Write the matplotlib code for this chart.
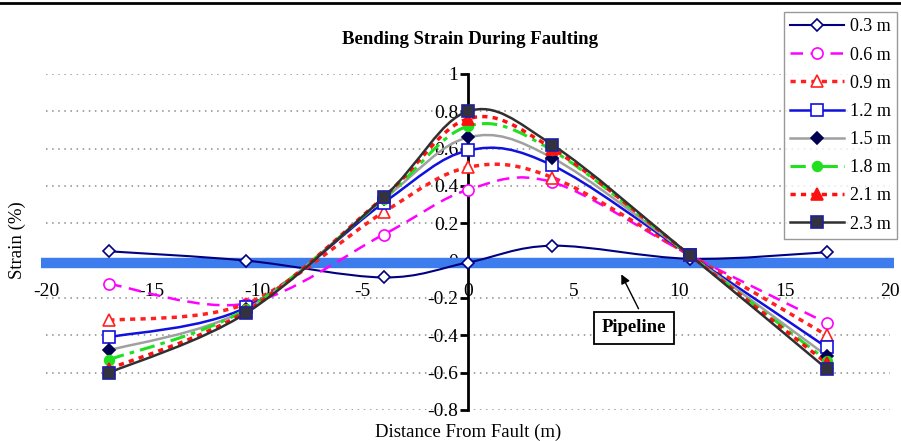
"""
Bending strain along the pipeline for different fault offsets
"""
import numpy as np
import matplotlib.pyplot as plt
from matplotlib.path import Path
from matplotlib.patches import PathPatch
from matplotlib.lines import Line2D

plt.rcParams['font.family'] = ['Liberation Serif', 'DejaVu Serif']
plt.rcParams['axes.unicode_minus'] = False

# Data
distance = [-17, -10.5, -4, 0, 4, 10.5, 17]
offsets = ["0.3 m", "0.6 m", "0.9 m", "1.2 m", "1.5 m", "1.8 m", "2.1 m", "2.3 m"]
strain_03 = [0.05, 0.0, -0.09, -0.01, 0.08, 0.01, 0.045]
strain_06 = [-0.125, -0.23, 0.14, 0.38, 0.42, 0.03, -0.335]
strain_09 = [-0.32, -0.23, 0.26, 0.50, 0.445, 0.03, -0.40]
strain_12 = [-0.41, -0.25, 0.31, 0.59, 0.51, 0.03, -0.465]
strain_15 = [-0.48, -0.26, 0.33, 0.66, 0.55, 0.03, -0.51]
strain_18 = [-0.53, -0.26, 0.33, 0.72, 0.59, 0.03, -0.535]
strain_21 = [-0.58, -0.27, 0.34, 0.76, 0.60, 0.03, -0.55]
strain_23 = [-0.60, -0.28, 0.34, 0.80, 0.62, 0.03, -0.58]
all_strains = [strain_03, strain_06, strain_09, strain_12,
               strain_15, strain_18, strain_21, strain_23]

x_ticks = [-20, -15, -10, -5, 0, 5, 10, 15, 20]
y_ticks = [-0.8, -0.6, -0.4, -0.2, 0, 0.2, 0.4, 0.6, 0.8, 1]
y_tick_labels = ["-0.8", "-0.6", "-0.4", "-0.2", "0", "0.2", "0.4", "0.6", "0.8", "1"]

# Line / marker styles per series
styles = [
    dict(color="#000080", ls="-", lw=1.5, marker="D", ms=6, mfc="white", mec="#000080"),
    dict(color="#FF00FF", ls=(0, (5, 3)), lw=1.8, marker="o", ms=8, mfc="white", mec="#FF00FF"),
    dict(color="#FF2020", ls=(0, (1.5, 1.5)), lw=2.5, marker="^", ms=9, mfc="white", mec="#FF2020"),
    dict(color="#1010E0", ls="-", lw=1.8, marker="s", ms=8, mfc="white", mec="#1010E0"),
    dict(color="#A0A0A0", ls="-", lw=1.8, marker="D", ms=6, mfc="#000050", mec="#000050"),
    dict(color="#20E020", ls=(0, (5, 2, 1.5, 2)), lw=2.2, marker="o", ms=7, mfc="#20E020", mec="#20E020"),
    dict(color="#FF1010", ls=(0, (1.5, 1.5)), lw=2.5, marker="^", ms=8, mfc="#FF1010", mec="#FF1010"),
    dict(color="#303030", ls="-", lw=1.8, marker="s", ms=8, mfc="#333340", mec="#2020A0"),
]


def smooth_path(x, y):
    # Excel-style smoothed line: cubic Bezier through every point
    pts = np.column_stack([x, y]).astype(float)
    n = len(pts)
    verts = [pts[0]]
    codes = [Path.MOVETO]
    for i in range(n - 1):
        p0 = pts[max(i - 1, 0)]
        p1 = pts[i]
        p2 = pts[i + 1]
        p3 = pts[min(i + 2, n - 1)]
        verts += [p1 + (p2 - p0) / 6, p2 - (p3 - p1) / 6, p2]
        codes += [Path.CURVE4] * 3
    return Path(verts, codes)


fig = plt.figure(figsize=(9.01, 4.41), dpi=100)
ax = fig.add_axes([0.051, 0.0703, 0.937, 0.762])
ax.set_xlim(-20, 20)
ax.set_ylim(-0.8, 1.0)

# Pipeline
ax.plot([-20.25, 20.2], [-0.01, -0.01], color="#3C7CEC", lw=7.5, solid_capstyle="butt",
        clip_on=False, zorder=2)

handles = []
for strain, st, label in zip(all_strains, styles, offsets):
    patch = PathPatch(smooth_path(distance, strain), fill=False, edgecolor=st["color"],
                      lw=st["lw"], linestyle=st["ls"], zorder=3)
    ax.add_patch(patch)
    ax.plot(distance, strain, linestyle="none", marker=st["marker"], ms=st["ms"],
            mfc=st["mfc"], mec=st["mec"], mew=1.2, zorder=4)
    handles.append(Line2D([], [], color=st["color"], ls=st["ls"], lw=st["lw"],
                          marker=st["marker"], ms=st["ms"], mfc=st["mfc"],
                          mec=st["mec"], mew=1.2, label=label))

# Axes through origin
ax.spines["top"].set_visible(False)
ax.spines["right"].set_visible(False)
ax.spines["left"].set_position(("data", 0))
ax.spines["bottom"].set_position(("data", 0))
ax.spines["left"].set_linewidth(2)
ax.spines["bottom"].set_visible(False)

ax.set_xticks(x_ticks)
ax.set_xticklabels([str(v) for v in x_ticks])
ax.set_yticks(y_ticks)
ax.set_yticklabels(y_tick_labels)
ax.tick_params(axis="x", direction="out", length=3, width=1.5, pad=13, labelsize=14)
ax.tick_params(axis="y", direction="out", length=5.5, width=2, pad=1.5, labelsize=14)

ax.yaxis.grid(True, linestyle=(0, (1, 3)), color="#8C8C8C", lw=1.1, zorder=0)
ax.set_axisbelow(True)

ax.annotate("Pipeline", xy=(7.2, -0.06), xytext=(7.87, -0.36),
            ha="center", va="center", fontsize=13.5, fontweight="bold",
            bbox=dict(boxstyle="square,pad=0.4", fc="white", ec="black", lw=1.3),
            arrowprops=dict(arrowstyle="-|>", color="black", lw=1, relpos=(0.65, 1.0)),
            zorder=6)

fig.text(0.522, 1 - 40 / 441, "Bending Strain During Faulting", ha="center", va="center",
         fontsize=13.5, fontweight="bold")
fig.text(0.52, 1 - 432 / 441, "Distance From Fault (m)", ha="center", va="center", fontsize=13.5)
fig.text(17 / 901, 1 - 240 / 441, "Strain (%)", ha="center", va="center", rotation=90, fontsize=13.5)

# Page border at top
fig.add_artist(Line2D([0, 1], [1 - 3 / 441, 1 - 3 / 441], transform=fig.transFigure,
                      color="black", lw=2))

fig.legend(handles=handles, loc="upper right", bbox_to_anchor=(897 / 901, 1 - 12 / 441),
           fontsize=13, frameon=True, fancybox=False, edgecolor="#808080",
           handlelength=3.0, handletextpad=0.3, labelspacing=0.62, borderpad=0.35,
           borderaxespad=0, numpoints=1)

fig.savefig("out.png", dpi=100)
